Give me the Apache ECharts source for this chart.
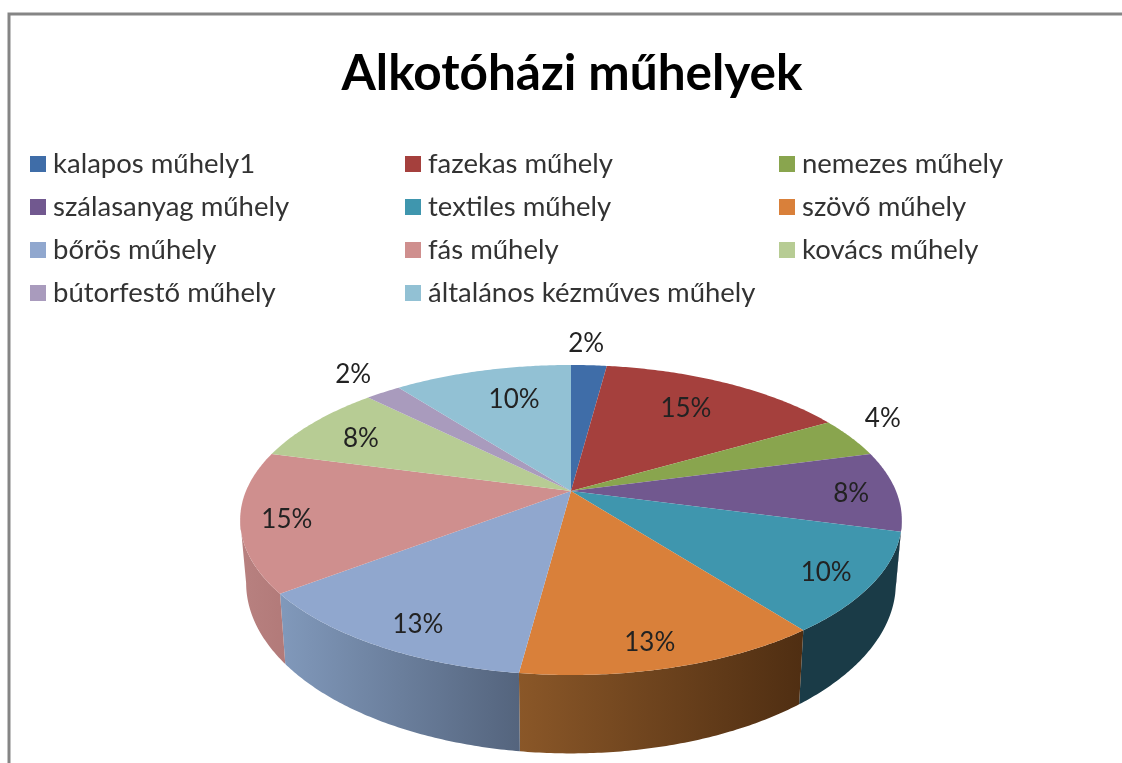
<!DOCTYPE html>
<html><head><meta charset="utf-8">
<style>html,body{margin:0;padding:0;background:#fff}#c{width:1122px;height:763px}</style>
<script src="https://cdn.jsdelivr.net/npm/echarts@6/dist/echarts.min.js"></script>
</head><body><div id="c"></div>
<script>
var chartTitle = 'Alkotóházi műhelyek';
var categories = ['kalapos műhely1','fazekas műhely','nemezes műhely','szálasanyag műhely','textiles műhely','szövő műhely','bőrös műhely','fás műhely','kovács műhely','bútorfestő műhely','általános kézműves műhely'];
var values = [1,7,2,4,5,6,6,7,4,1,5];
var colors = ['#3F6DA8','#A5403D','#89A54E','#71588F','#3F96AE','#D9803A','#90A7CE','#CF8F8E','#B7CC94','#A99BBD','#92C1D4'];
var wallFrom = ['#2f5280','#7c302e','#67793a','#3f3050','#1a3b47','#8a5728','#8199bb','#b88180','#8a9a70','#7f748e','#6e919f'];
var wallTo   = ['#2f5280','#7c302e','#67793a','#3f3050','#1a3b47','#4f2e12','#54647d','#b27a79','#8a9a70','#7f748e','#6e919f'];
// label placement in the pie's own polar frame: [angle in degrees, fraction of radius]
var labelPolar = [[2.7,1.215],[32.5,.734],[63,1.185],[90.5,.861],[124.3,.864],[166.5,.873],[207.9,.863],[257.9,.864],[298.7,.789],[319.4,1.206],[344.1,.722]];

var total = values.reduce(function(a,b){return a+b;},0);
var cum = [0];
values.forEach(function(v,i){cum.push(cum[i]+v);});
var CX=571, CY=491, A=325, B=149.6, K=0.187;
function proj(t,r){var s=Math.sin(t)*r,c=Math.cos(t)*r,w=1+K*c;return [CX+A*s/w,CY-B*c/w];}
function lower(p){return [CX+(p[0]-CX)*0.982, CY+(p[1]-CY)*1.1+60];}
var TR=Math.acos(-K), TL=2*Math.PI-TR;
function arc(t1,t2){var n=Math.max(2,Math.ceil((t2-t1)/0.01)),o=[];for(var i=0;i<=n;i++)o.push(proj(t1+(t2-t1)*i/n,1));return o;}

function pct(v){return Math.round(v/total*100)+'%';}
function sliceRender(idx){
  return function(){
    var t1=cum[idx]/total*2*Math.PI,t2=cum[idx+1]/total*2*Math.PI,kids=[];
    var a=Math.max(t1,TR),b=Math.min(t2,TL);
    if(b>a){
      var up=arc(a,b),lo=up.map(lower).reverse();
      kids.push({type:'polygon',z2:1,shape:{points:up.concat(lo)},style:{fill:{type:'linear',x:0,y:0,x2:1,y2:0,colorStops:[{offset:0,color:wallFrom[idx]},{offset:1,color:wallTo[idx]}]}}});
    }
    kids.push({type:'polygon',z2:2,shape:{points:[[CX,CY]].concat(arc(t1,t2))},style:{fill:colors[idx]}});
    var lp=labelPolar[idx],p=proj(lp[0]*Math.PI/180,lp[1]);
    kids.push({type:'text',z2:3,x:p[0],y:p[1]+1,style:{text:pct(values[idx]),fill:'#222',font:'26px Lato',textAlign:'center',textVerticalAlign:'middle'}});
    return {type:'group',children:kids};
  };
}
var series=categories.map(function(n,i){
  return {type:'custom',name:n,coordinateSystem:'none',itemStyle:{color:colors[i]},data:[values[i]],renderItem:sliceRender(i),silent:true,animation:false};
});
function legendCol(ids,left){
  return {show:true,orient:'vertical',left:left,top:145,itemGap:15,itemWidth:16,itemHeight:16,icon:'rect',selectedMode:false,
    textStyle:{fontFamily:'Lato',fontSize:27.5,lineHeight:28,height:28,color:'#333',padding:[0,0,0,2]},data:ids.map(function(i){return categories[i];})};
}
var chart=echarts.init(document.getElementById('c'),null,{renderer:'canvas'});
chart.setOption({
  animation:false,
  backgroundColor:'#fff',
  title:{text:chartTitle,left:567,top:44,textAlign:'center',textStyle:{fontFamily:'Lato',fontWeight:'bold',fontSize:49.5,color:'#000'}},
  legend:[legendCol([0,3,6,9],25),legendCol([1,4,7,10],400),legendCol([2,5,8],774)],
  graphic:[{type:'polyline',shape:{points:[[9,770],[9,14],[1130,14]]},style:{stroke:'#858585',lineWidth:3,fill:null}}],
  series:series
});
</script></body></html>
